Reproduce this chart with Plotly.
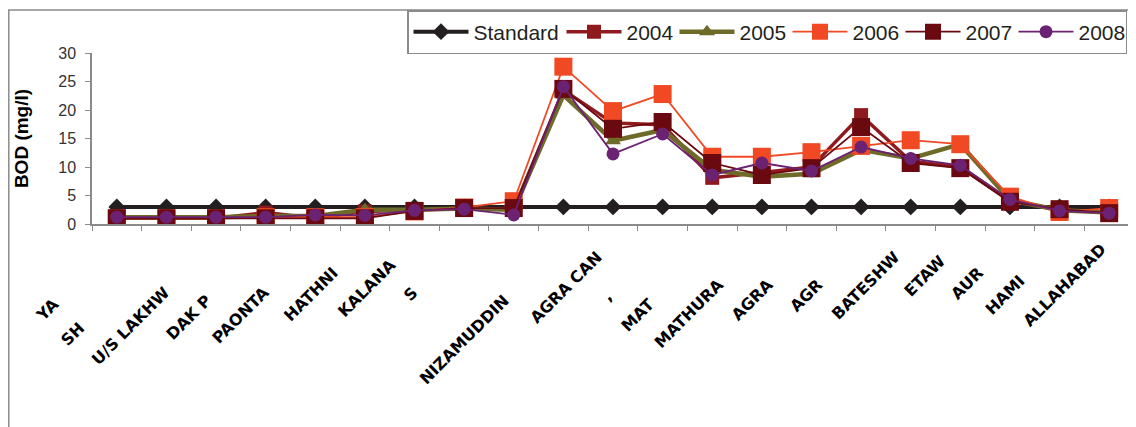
import plotly.graph_objects as go

categories = list(range(21))
tick_labels = ["YA", "SH", "U/S LAKHW", "DAK P", "PAONTA", "HATHNI", "KALANA", "S", "",
               "NIZAMUDDIN", "AGRA CAN", ",", "MAT", "MATHURA", "AGRA", "AGR",
               "BATESHW", "ETAW", "AUR", "HAMI", "ALLAHABAD"]

standard = [3] * 21
y2004 = [1.0, 1.0, 1.0, 2.0, 1.0, 2.2, 2.4, 2.7, 2.6, 23.5, 17.7, 17.4, 8.1, 9.0, 10.0, 19.1, 11.0, 10.0, 4.0, 2.5, 2.0]
y2005 = [1.2, 1.2, 1.2, 1.4, 1.4, 2.5, 2.5, 2.7, 2.5, 22.6, 14.6, 16.5, 9.5, 8.3, 8.8, 13.0, 11.5, 14.0, 4.2, 2.4, 2.0]
y2006 = [1.0, 1.0, 1.0, 1.2, 1.2, 1.2, 2.2, 2.9, 4.0, 27.6, 19.8, 22.8, 11.8, 11.8, 12.6, 13.7, 14.7, 14.0, 4.8, 2.1, 2.8]
y2007 = [1.0, 1.0, 1.0, 1.0, 1.0, 1.0, 2.3, 2.8, 2.8, 23.7, 16.7, 17.9, 10.7, 8.6, 9.8, 17.0, 10.7, 9.8, 3.9, 2.6, 1.9]
y2008 = [1.2, 1.2, 1.2, 1.2, 1.6, 1.5, 2.4, 2.6, 1.6, 24.1, 12.3, 15.8, 8.6, 10.7, 9.3, 13.5, 11.5, 10.3, 4.3, 2.3, 1.9]

series = [
    ("Standard", standard, "#231F20", 4, "diamond", 13, 83),
    ("2004", y2004, "#8E1A1E", 3.5, "square", 14, 43),
    ("2005", y2005, "#6E6A28", 4.5, "triangle-up", 14, 43),
    ("2006", y2006, "#F04923", 1.8, "square", 18, 43),
    ("2007", y2007, "#6A0A10", 1.8, "square", 18, 43),
    ("2008", y2008, "#6C2273", 1.8, "circle", 13, 42),
]

# styling: how far (in non-breaking spaces) each tick label is pushed down its diagonal,
# imitating the clipped labels of the original
label_shift = [16, 22, 13, 15, 13, 8, 6, 13, 0, 15, 4, 14, 16, 11, 11, 11, 4, 5, 8, 10, 2]
shown_labels = [t + "\u00a0" * s for t, s in zip(tick_labels, label_shift)]

fig = go.Figure()
for name, vals, col, lw, sym, ms, lwid in series:
    fig.add_trace(go.Scatter(
        x=categories, y=vals, name=name, mode="lines+markers",
        line=dict(color=col, width=lw),
        marker=dict(color=col, symbol=sym, size=ms, line=dict(width=0)),
        legendwidth=lwid,
    ))

OFF = 8  # page body margin
W, H = 1136 - OFF, 427 - OFF
L, T = 92 - OFF, 53 - OFF
R = W - (1134 - OFF)
B = H - (224 - OFF)
pw = W - L - R
ph = H - T - B

def px_x(p):
    return (p - OFF - L) / pw

def px_y(p):
    return (224 - p) / ph

fig.add_shape(type="rect", xref="paper", yref="paper",
              x0=px_x(OFF + 0.8), x1=px_x(1133), y0=px_y(440), y1=px_y(10),
              line=dict(color="#8a8a8a", width=1.5), fillcolor="rgba(0,0,0,0)", layer="below")

fig.update_layout(
    width=W, height=H,
    margin=dict(l=L, r=R, t=T, b=B, pad=0, autoexpand=False),
    paper_bgcolor="white", plot_bgcolor="white",
    font=dict(family="Liberation Sans, Arial, sans-serif", color="#231F20"),
    showlegend=True,
    legend=dict(orientation="h", x=px_x(407), y=px_y(10), xanchor="left", yanchor="top",
                bordercolor="#8a8a8a", borderwidth=1.5, bgcolor="white",
                font=dict(size=21, color="#231F20"), itemwidth=55,
                tracegroupgap=0),
    xaxis=dict(
        type="category", tickmode="array", tickvals=categories, ticktext=shown_labels,
        range=[-0.5, 20.5], tickson="boundaries", ticks="outside", ticklen=5,
        tickcolor="#8a8a8a", showline=True, linecolor="#8a8a8a", linewidth=1.5,
        showgrid=False, zeroline=False, tickangle=-45, automargin=False,
        tickfont=dict(size=16, family="DejaVu Sans, sans-serif", color="black", weight="bold"),
    ),
    yaxis=dict(
        range=[0, 30], tickvals=[0, 5, 10, 15, 20, 25, 30], ticks="outside", ticklen=5,
        tickcolor="#8a8a8a", showline=True, linecolor="#8a8a8a", linewidth=1.5,
        showgrid=False, zeroline=False, ticklabelstandoff=6, automargin=False,
        tickfont=dict(size=16, color="#333333"),
        title=dict(text="BOD (mg/l)", font=dict(size=19, color="black", weight="bold",
                                                family="Liberation Sans, Arial, sans-serif"),
                   standoff=25),
    ),
)

fig.write_html("out.html")
